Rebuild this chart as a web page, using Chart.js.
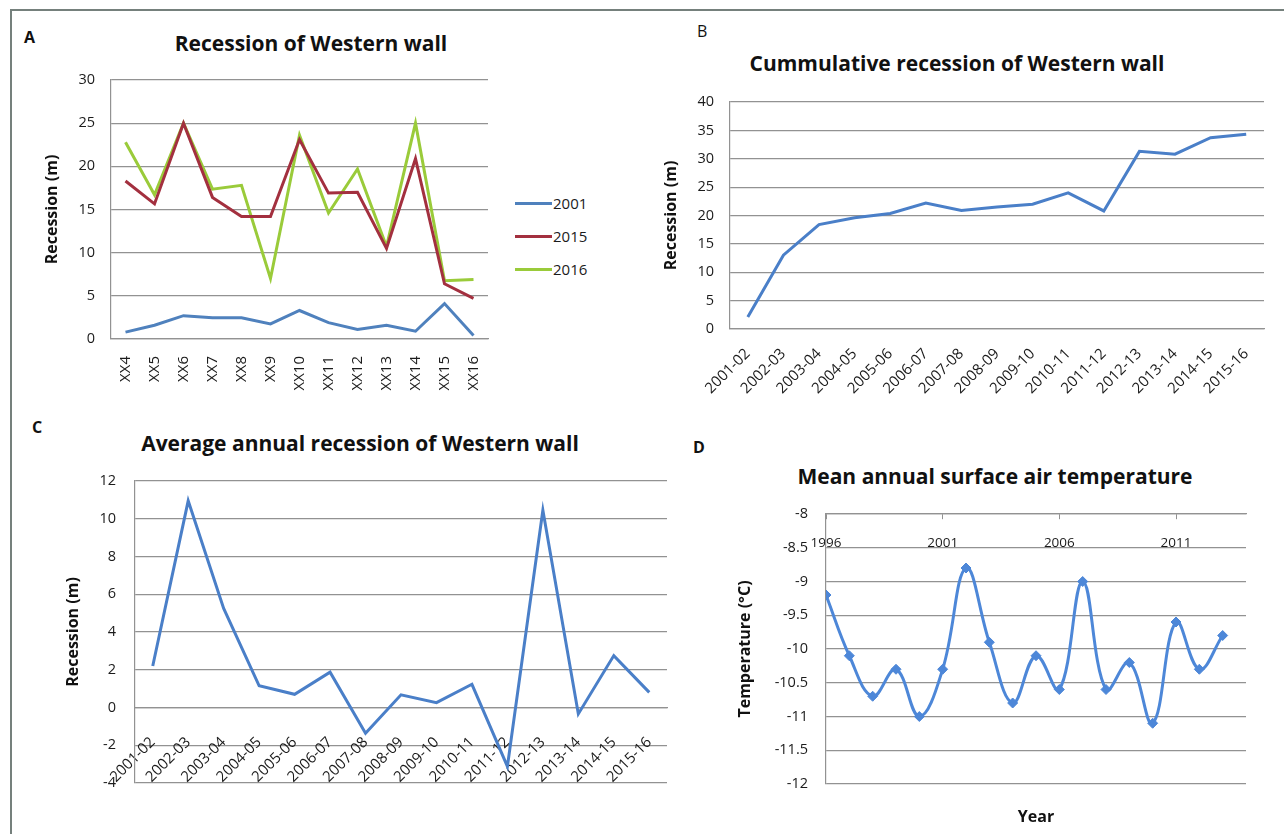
<!DOCTYPE html>
<html>
<head>
<meta charset="utf-8">
<script src="https://cdn.jsdelivr.net/npm/chart.js@4.4.1/dist/chart.umd.min.js"></script>
<style>
  html, body { margin: 0; padding: 0; background: #fff; }
  #fig { position: relative; width: 1284px; height: 834px; overflow: hidden; background: #fff;
         font-family: 'Open Sans', sans-serif; color: #111; }
  .frame-top { position: absolute; left: 10px; top: 9px; width: 1274px; height: 2px; background: #75807c; }
  .frame-left { position: absolute; left: 10px; top: 9px; width: 2px; height: 825px; background: #75807c; }
  .panel { position: absolute; }
  .ttl { position: absolute; font-weight: 700; font-size: 21px; line-height: 1; white-space: nowrap;
         transform: translateX(-50%); }
  .tag { position: absolute; font-size: 16px; line-height: 1; font-weight: 700; }
  .legend { position: absolute; left: 515px; top: 192px; }
  .legend .row { display: flex; align-items: center; height: 22px; margin-bottom: 11px; }
  .legend .swatch { width: 37px; height: 3px; margin-right: 1px; }
  .legend .lbl { font-size: 15px; line-height: 1; color: #1b1b1b; }
</style>
</head>
<body>
<div id="fig">
  <div class="frame-top"></div>
  <div class="frame-left"></div>

  <div class="tag" style="left:24px; top:29px;">A</div>
  <div class="tag" style="left:697px; top:23px; font-weight:400;">B</div>
  <div class="tag" style="left:32px; top:419px;">C</div>
  <div class="tag" style="left:693px; top:439px;">D</div>

  <div class="ttl" style="left:311px; top:33px;">Recession of Western wall</div>
  <div class="ttl" style="left:957px; top:53px;">Cummulative recession of Western wall</div>
  <div class="ttl" style="left:360px; top:433px;">Average annual recession of Western wall</div>
  <div class="ttl" style="left:995px; top:466px;">Mean annual surface air temperature</div>

  <div class="panel" style="left:20px; top:70px; width:480px; height:340px;"><canvas id="chartA"></canvas></div>
  <div class="legend" id="legendA"></div>
  <div class="panel" style="left:640px; top:92px; width:634px; height:323px;"><canvas id="chartB"></canvas></div>
  <div class="panel" style="left:20px; top:470px; width:660px; height:325px;"><canvas id="chartC"></canvas></div>
  <div class="panel" style="left:690px; top:500px; width:570px; height:330px;"><canvas id="chartD"></canvas></div>
</div>

<script>
// ---- Panel A: recession per station ----
const stations = ['XX4', 'XX5', 'XX6', 'XX7', 'XX8', 'XX9', 'XX10', 'XX11', 'XX12', 'XX13', 'XX14', 'XX15', 'XX16'];
const recession2001 = [0.8, 1.6, 2.7, 2.45, 2.45, 1.75, 3.3, 1.9, 1.1, 1.6, 0.9, 4.1, 0.4];
const recession2015 = [18.3, 15.65, 25.0, 16.4, 14.2, 14.2, 23.1, 16.9, 17.0, 10.5, 20.9, 6.4, 4.7];
const recession2016 = [22.8, 16.7, 25.0, 17.35, 17.8, 7.0, 23.6, 14.6, 19.7, 10.7, 25.0, 6.75, 6.9];
const seriesNames = ['2001', '2015', '2016'];
const recessionTicksA = [0, 5, 10, 15, 20, 25, 30];

// ---- Panel B / C: per-period recession ----
const periods = ['2001-02', '2002-03', '2003-04', '2004-05', '2005-06', '2006-07', '2007-08', '2008-09',
                 '2009-10', '2010-11', '2011-12', '2012-13', '2013-14', '2014-15', '2015-16'];
const cumulativeRecession = [2.1, 13.0, 18.4, 19.6, 20.35, 22.2, 20.9, 21.5, 22.0, 24.0, 20.8, 31.3, 30.8, 33.7, 34.3];
const recessionTicksB = [0, 5, 10, 15, 20, 25, 30, 35, 40];
const annualRecession = [2.2, 10.95, 5.25, 1.15, 0.7, 1.87, -1.36, 0.67, 0.26, 1.23, -3.12, 10.45, -0.34, 2.75, 0.8];
const recessionTicksC = [-4, -2, 0, 2, 4, 6, 8, 10, 12];

// ---- Panel D: mean annual surface air temperature ----
const years = [1996, 1997, 1998, 1999, 2000, 2001, 2002, 2003, 2004, 2005, 2006, 2007, 2008, 2009, 2010, 2011, 2012, 2013];
const meanTemperature = [-9.2, -10.1, -10.7, -10.3, -11.0, -10.3, -8.8, -9.9, -10.8, -10.1, -10.6, -9.0, -10.6, -10.2, -11.1, -9.6, -10.3, -9.8];
const yearTicks = [1996, 2001, 2006, 2011];
const temperatureTicks = [-12, -11.5, -11, -10.5, -10, -9.5, -9, -8.5, -8];
const yearRange = [1996, 2014];

const GRID = '#929292';
const BLUE = '#4a7fc8';
const seriesColors = ['#4f81bd', '#a3303f', '#9acb3a'];

Chart.defaults.font.family = "'Open Sans', sans-serif";
Chart.defaults.font.size = 14;
Chart.defaults.color = '#1b1b1b';
Chart.defaults.animation = false;
Chart.defaults.maintainAspectRatio = false;
Chart.defaults.plugins.legend.display = false;
Chart.defaults.plugins.tooltip.enabled = false;

// The axis boxes keep the sizes given here; label overhang is not added to the layout.
function fixSize(s, key, size) {
  s[key] = size;
  s.paddingTop = 0; s.paddingBottom = 0; s.paddingLeft = 0; s.paddingRight = 0;
}

function valueAxis(ticks, title, o) {
  return {
    type: 'linear',
    min: ticks[0],
    max: ticks[ticks.length - 1],
    afterBuildTicks: s => { s.ticks = ticks.map(v => ({ value: v })); },
    grid: { color: GRID, lineWidth: 1.2, drawTicks: false },
    border: { display: true, color: GRID, width: 1.2 },
    ticks: { padding: o.tickPad, callback: v => String(v), font: { size: 14.5 } },
    title: { display: true, text: title, color: '#111',
             font: { size: 16, weight: 'bold' }, padding: { top: o.titlePad, bottom: 0 } },
    afterFit: s => fixSize(s, 'width', o.width)
  };
}

function categoryAxis(o) {
  const axis = {
    type: 'category',
    offset: true,
    grid: { display: false, drawTicks: false },
    border: { display: true, color: GRID, width: 1.2 },
    ticks: { autoSkip: false, minRotation: o.rot, maxRotation: o.rot, padding: o.pad, font: { size: 15 } },
    afterFit: s => fixSize(s, 'height', o.height)
  };
  if (o.position) axis.position = o.position;
  return axis;
}

// Panel A
const seriesA = [recession2001, recession2015, recession2016];
new Chart(document.getElementById('chartA'), {
  type: 'line',
  data: {
    labels: stations,
    datasets: seriesA.map((d, i) => ({
      label: seriesNames[i], data: d, borderColor: seriesColors[i],
      borderWidth: 3, pointRadius: 0, tension: 0
    }))
  },
  options: {
    layout: { padding: { top: 10, right: 12, left: 0, bottom: 0 } },
    scales: {
      x: categoryAxis({ rot: 90, pad: 17, height: 71 }),
      y: valueAxis(recessionTicksA, 'Recession (m)', { tickPad: 16, titlePad: 22.4, width: 91 })
    }
  }
});

// Legend for panel A, built from the series names and colours
const legendA = document.getElementById('legendA');
seriesNames.forEach((name, i) => {
  const row = document.createElement('div');
  row.className = 'row';
  const sw = document.createElement('div');
  sw.className = 'swatch';
  sw.style.background = seriesColors[i];
  const lbl = document.createElement('span');
  lbl.className = 'lbl';
  lbl.textContent = name;
  row.appendChild(sw);
  row.appendChild(lbl);
  legendA.appendChild(row);
});

// Panel B
new Chart(document.getElementById('chartB'), {
  type: 'line',
  data: {
    labels: periods,
    datasets: [{ data: cumulativeRecession, borderColor: BLUE, borderWidth: 3, pointRadius: 0, tension: 0 }]
  },
  options: {
    layout: { padding: { top: 10, right: 10, left: 0, bottom: 0 } },
    scales: {
      x: categoryAxis({ rot: 45, pad: 16, height: 86 }),
      y: valueAxis(recessionTicksB, 'Recession (m)', { tickPad: 16, titlePad: 21.4, width: 90 })
    }
  }
});

// Panel C: the category axis crosses at zero, so its labels sit inside the plot
new Chart(document.getElementById('chartC'), {
  type: 'line',
  data: {
    labels: periods,
    datasets: [{ data: annualRecession, borderColor: BLUE, borderWidth: 3, pointRadius: 0, tension: 0 }]
  },
  options: {
    layout: { padding: { top: 11, right: 13, left: 0, bottom: 12 } },
    scales: {
      x: categoryAxis({ rot: 45, pad: 26, height: 0, position: { y: 0 } }),
      y: valueAxis(recessionTicksC, 'Recession (m)', { tickPad: 19, titlePad: 43.4, width: 115 })
    }
  }
});

// Panel D: smoothed temperature series with diamond markers; year axis crosses at -8
new Chart(document.getElementById('chartD'), {
  type: 'line',
  data: {
    datasets: [{
      data: years.map((y, i) => ({ x: y, y: meanTemperature[i] })),
      borderColor: '#4d87d8', backgroundColor: '#4d87d8', borderWidth: 3,
      pointStyle: 'rectRot', pointRadius: 5, pointBorderWidth: 1, tension: 0.4
    }]
  },
  options: {
    layout: { padding: { top: 14, right: 14, left: 0, bottom: 0 } },
    scales: {
      x: {
        type: 'linear', position: { y: -8 }, min: yearRange[0], max: yearRange[1],
        afterBuildTicks: s => { s.ticks = yearTicks.map(v => ({ value: v })); },
        grid: { display: true, drawOnChartArea: false, drawTicks: true, tickLength: 5, color: GRID },
        border: { display: true, color: GRID, width: 1.2 },
        ticks: { padding: 16, autoSkip: false, maxRotation: 0, callback: v => String(v), font: { size: 13.5 } },
        afterFit: s => fixSize(s, 'height', 0)
      },
      x2: {
        type: 'linear', axis: 'x', position: 'bottom', min: yearRange[0], max: yearRange[1],
        grid: { display: false, drawTicks: false },
        border: { display: false },
        ticks: { display: false },
        title: { display: true, text: 'Year', color: '#111', font: { size: 16, weight: 'bold' },
                 padding: { top: 0, bottom: 3 } },
        afterFit: s => fixSize(s, 'height', 46)
      },
      y: valueAxis(temperatureTicks, 'Temperature (°C)', { tickPad: 18, titlePad: 45.4, width: 136 })
    }
  }
});
</script>
</body>
</html>
